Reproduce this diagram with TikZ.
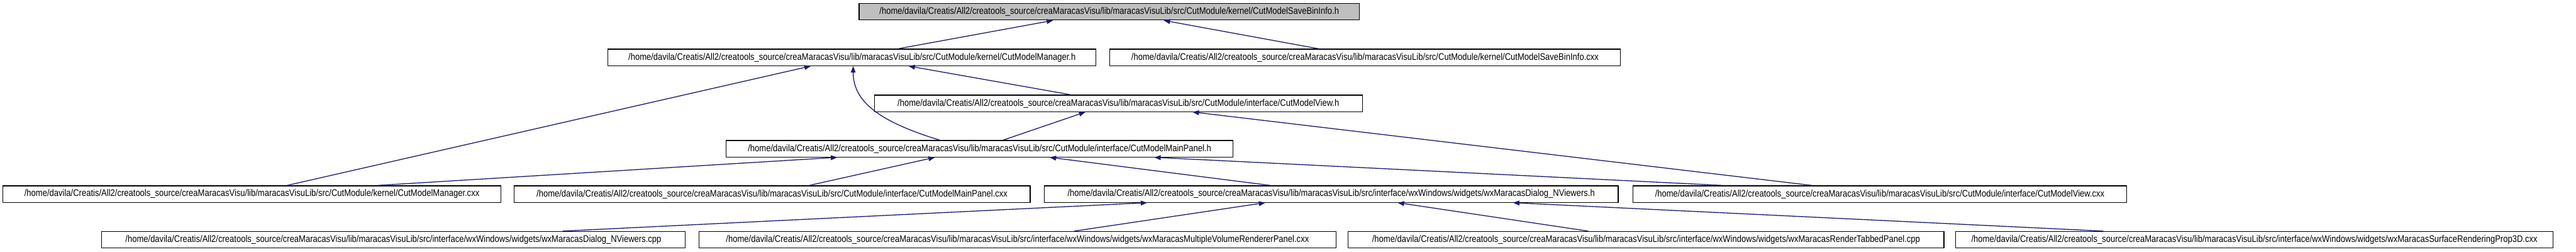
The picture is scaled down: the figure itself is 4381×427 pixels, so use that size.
\documentclass[tikz,border=0pt]{standalone}
\usepackage{fontspec}
\setmainfont{Liberation Sans}[FakeStretch=0.86]
\usepackage{tikz}
\usetikzlibrary{arrows.meta}
\definecolor{cedge}{HTML}{191970}
\definecolor{croot}{HTML}{BFBFBF}
\newcommand{\srcroot}{/home/davila/Creatis/All2/creatools\_source/creaMaracasVisu/lib/maracasVisuLib/src/}
\tikzset{
  filebox/.style={draw=black, fill=white, line width=1.3pt, minimum height=28pt,
    inner sep=0pt, font=\fontsize{16.2}{18}\selectfont},
  rootbox/.style={filebox, fill=croot},
  inclarrow/.style={-{Triangle[length=11pt,width=8pt]}, line width=1.4pt, color=cedge}
}

\begin{document}
\begin{tikzpicture}[x=1pt, y=-1pt]
    \useasboundingbox (0,0) rectangle (4381,427);

    % rows, top to bottom
    \node[rootbox, minimum width=851pt] (savebinh) at (1886.5,20) {\srcroot CutModule/kernel/CutModelSaveBinInfo.h};

    \node[filebox, minimum width=830pt] (managerh) at (1449,97.5) {\srcroot CutModule/kernel/CutModelManager.h};
    \node[filebox, minimum width=869pt] (savebincxx) at (2321.5,97.5) {\srcroot CutModule/kernel/CutModelSaveBinInfo.cxx};

    \node[filebox, minimum width=830pt] (viewh) at (1902,175.5) {\srcroot CutModule/interface/CutModelView.h};

    \node[filebox, minimum width=862pt] (mainpanelh) at (1666,252.5) {\srcroot CutModule/interface/CutModelMainPanel.h};

    \node[filebox, minimum width=847pt] (managercxx) at (428.5,329.5) {\srcroot CutModule/kernel/CutModelManager.cxx};
    \node[filebox, minimum width=878pt] (mainpanelcxx) at (1313,329.5) {\srcroot CutModule/interface/CutModelMainPanel.cxx};
    \node[filebox, minimum width=976pt] (nviewersh) at (2264,329.5) {\srcroot interface/wxWindows/widgets/wxMaracasDialog\_NViewers.h};
    \node[filebox, minimum width=840pt] (viewcxx) at (3197,329.5) {\srcroot CutModule/interface/CutModelView.cxx};

    \node[filebox, minimum width=992pt] (nviewerscpp) at (669,407) {\srcroot interface/wxWindows/widgets/wxMaracasDialog\_NViewers.cpp};
    \node[filebox, minimum width=1083pt] (multivolcxx) at (1730.5,407) {\srcroot interface/wxWindows/widgets/wxMaracasMultipleVolumeRendererPanel.cxx};
    \node[filebox, minimum width=1013pt] (tabbedcpp) at (2799.5,407) {\srcroot interface/wxWindows/widgets/wxMaracasRenderTabbedPanel.cpp};
    \node[filebox, minimum width=1016pt] (surfacecxx) at (3834,407) {\srcroot interface/wxWindows/widgets/wxMaracasSurfaceRenderingProp3D.cxx};

    % include edges
    \draw[inclarrow] ([xshift=78pt]managerh.north) -- ([xshift=-95.5pt]savebinh.south);
    \draw[inclarrow] ([xshift=-78.5pt]savebincxx.north) -- ([xshift=92.5pt]savebinh.south);

    \draw[inclarrow] ([xshift=59.5pt]managercxx.north) -- ([xshift=-70pt]managerh.south);
    \draw[inclarrow] ([xshift=-68pt]mainpanelh.north) .. controls (1490,205) and (1451,170) .. ([xshift=2pt]managerh.south);
    \draw[inclarrow] ([xshift=-81pt]viewh.north) -- ([xshift=96pt]managerh.south);

    \draw[inclarrow] ([xshift=40pt]mainpanelh.north) -- ([xshift=-56pt]viewh.south);
    \draw[inclarrow] ([xshift=-115pt]viewcxx.north) -- ([xshift=126pt]viewh.south);

    \draw[inclarrow] ([xshift=212.5pt]managercxx.north) -- ([xshift=-242pt]mainpanelh.south);
    \draw[inclarrow] ([xshift=63pt]mainpanelcxx.north) -- ([xshift=-76pt]mainpanelh.south);
    \draw[inclarrow] ([xshift=-103pt]nviewersh.north) -- ([xshift=119pt]mainpanelh.south);
    \draw[inclarrow] ([xshift=-266pt]viewcxx.north) -- ([xshift=297pt]mainpanelh.south);

    \draw[inclarrow] ([xshift=288pt]nviewerscpp.north) -- ([xshift=-313pt]nviewersh.south);
    \draw[inclarrow] ([xshift=96.5pt]multivolcxx.north) -- ([xshift=-112pt]nviewersh.south);
    \draw[inclarrow] ([xshift=-98.5pt]tabbedcpp.north) -- ([xshift=113pt]nviewersh.south);
    \draw[inclarrow] ([xshift=-257pt]surfacecxx.north) -- ([xshift=309pt]nviewersh.south);
  \end{tikzpicture}
\end{document}
